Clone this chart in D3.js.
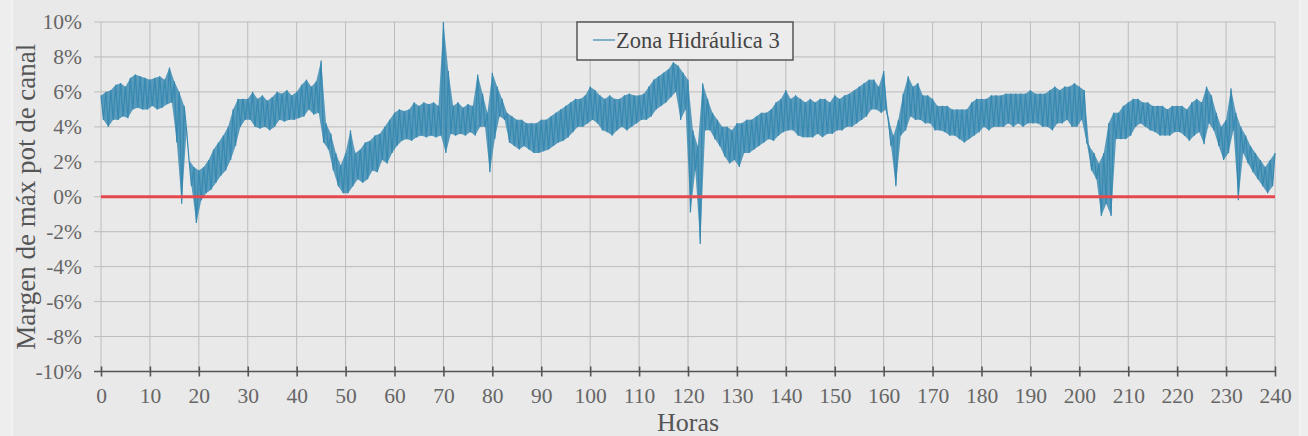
<!DOCTYPE html>
<html>
<head>
<meta charset="utf-8">
<script src="https://cdn.jsdelivr.net/npm/d3@7"></script>
<style>
  html, body { margin: 0; padding: 0; background: #eeeeee; }
  svg { display: block; }
</style>
</head>
<body>
<svg id="chart" width="1308" height="436"></svg>
<script>
// Margen de máxima potencia de canal, zona hidráulica 3, horario 0–240 h.
// Upper swing of the signal at each whole hour (0 … 240), in %.
const peaks = [
  5.8, 6.0, 6.1, 6.4, 6.5, 6.3, 6.8, 7.0, 6.9, 6.8,
  6.7, 6.8, 6.9, 6.7, 7.4, 6.6, 6.0, 5.2, 2.1, 1.7,
  1.5, 1.7, 2.1, 2.7, 3.1, 3.5, 4.0, 5.0, 5.6, 5.6,
  5.6, 6.0, 5.6, 5.8, 5.5, 5.7, 6.0, 5.9, 6.1, 5.8,
  6.0, 6.4, 6.7, 6.3, 6.6, 7.8, 4.2, 3.6, 2.5, 1.8,
  2.5, 3.8, 2.5, 2.7, 3.1, 3.2, 3.5, 3.6, 4.0, 4.4,
  4.8, 5.0, 4.9, 5.0, 5.4, 5.2, 5.4, 5.3, 5.4, 5.2,
  10.0, 7.2, 5.2, 5.4, 5.1, 5.3, 5.2, 7.0, 5.9, 4.8,
  7.1, 6.3, 5.6, 4.8, 4.6, 4.4, 4.4, 4.2, 4.2, 4.2,
  4.4, 4.4, 4.6, 4.8, 5.0, 5.2, 5.4, 5.6, 5.6, 5.8,
  6.3, 6.1, 5.8, 5.6, 5.8, 5.6, 5.6, 5.8, 5.9, 5.8,
  5.8, 5.9, 6.3, 6.7, 6.9, 7.1, 7.3, 7.7, 7.5, 7.1,
  6.7, 3.8, 2.9, 6.5, 5.6, 4.8, 4.4, 4.0, 4.0, 3.8,
  4.2, 4.2, 4.4, 4.4, 4.6, 4.8, 4.8, 5.0, 5.4, 5.6,
  6.1, 5.6, 5.8, 5.6, 5.4, 5.6, 5.4, 5.6, 5.6, 5.4,
  5.8, 5.6, 5.8, 5.9, 6.1, 6.3, 6.5, 6.7, 6.7, 6.3,
  7.2, 4.4, 3.5, 4.4, 5.9, 6.9, 6.3, 6.5, 5.8, 5.8,
  5.6, 5.2, 5.2, 5.2, 5.0, 5.0, 5.0, 5.0, 5.4, 5.6,
  5.6, 5.6, 5.8, 5.8, 5.8, 5.9, 5.9, 5.9, 5.9, 5.9,
  6.1, 5.9, 5.9, 5.9, 6.1, 6.3, 6.1, 6.3, 6.3, 6.5,
  6.3, 6.1, 2.9, 2.5, 1.9, 2.5, 4.2, 4.8, 4.8, 5.2,
  5.4, 5.6, 5.6, 5.4, 5.4, 5.2, 5.2, 5.2, 5.0, 5.2,
  5.2, 5.2, 5.0, 5.4, 5.6, 5.4, 6.3, 5.8, 4.8, 4.0,
  4.4, 6.2, 4.8, 4.0, 3.5, 2.9, 2.5, 2.1, 1.7, 2.1,
  2.5
];
// Lower swing of the signal at each half hour (0.5 … 239.5), in %.
const troughs = [
  4.4, 4.0, 4.4, 4.4, 4.6, 4.5, 5.0, 5.1, 5.0, 5.0,
  5.2, 5.0, 5.1, 5.3, 5.4, 3.1, -0.4, 3.8, 0.6, -1.5,
  -0.2, 0.2, 0.4, 0.8, 1.2, 1.5, 2.1, 2.9, 4.0, 4.4,
  4.4, 4.0, 3.9, 4.0, 3.8, 4.0, 4.4, 4.3, 4.4, 4.4,
  4.5, 4.6, 5.0, 4.7, 4.8, 3.1, 2.7, 1.5, 0.6, 0.2,
  0.2, 0.6, 1.0, 0.8, 1.0, 1.5, 1.4, 2.1, 1.9, 2.5,
  2.9, 3.2, 3.3, 3.2, 3.4, 3.5, 3.4, 3.5, 3.4, 3.5,
  2.5, 3.6, 3.5, 3.6, 3.5, 3.7, 3.5, 4.0, 4.0, 1.4,
  3.3, 4.6, 4.4, 3.1, 2.9, 2.7, 2.9, 2.7, 2.5, 2.5,
  2.6, 2.7, 2.9, 3.1, 3.2, 3.4, 3.7, 4.0, 4.0, 4.2,
  4.4, 4.2, 3.8, 3.7, 3.5, 3.8, 4.0, 3.8, 4.0, 4.2,
  4.4, 4.4, 4.6, 5.0, 5.2, 5.4, 5.7, 6.0, 4.4, 5.0,
  -0.9, 1.5, -2.7, 3.8, 3.8, 3.3, 2.9, 2.3, 1.9, 2.1,
  1.7, 2.5, 2.5, 2.7, 2.9, 3.1, 3.3, 3.2, 3.5, 3.7,
  3.8, 3.8, 3.5, 3.4, 3.4, 3.4, 3.6, 3.4, 3.6, 3.6,
  3.8, 3.8, 4.0, 4.0, 4.2, 4.4, 4.6, 5.0, 5.0, 4.8,
  5.0, 2.9, 0.6, 3.5, 3.8, 4.6, 4.4, 4.4, 4.2, 4.2,
  3.8, 3.8, 3.7, 3.5, 3.5, 3.3, 3.1, 3.3, 3.5, 3.7,
  4.0, 3.8, 4.0, 4.0, 4.0, 4.2, 4.0, 4.2, 4.0, 4.2,
  4.2, 4.2, 4.0, 4.0, 3.8, 4.2, 4.2, 4.4, 4.0, 4.0,
  4.4, 3.1, 1.5, 1.0, -1.1, -0.4, -1.1, 3.3, 3.3, 3.3,
  3.5, 4.0, 4.2, 4.0, 3.8, 3.7, 3.5, 3.5, 3.5, 3.7,
  3.7, 3.5, 3.2, 3.5, 3.7, 3.0, 4.2, 3.8, 2.9, 2.1,
  2.5, 3.8, -0.2, 2.5, 1.9, 1.4, 1.0, 0.6, 0.2, 0.6
];
// Reference limit (0 %) across the whole horizon.
const limitHours = [0, 240];
const limitValues = [0, 0];

const xTicks = d3.range(0, 241, 10);
const yTicks = d3.range(-10, 10.01, 2);
const seriesName = "Zona Hidráulica 3";
const xTitle = "Horas";
const yTitle = "Margen de máx pot de canal";

const FONT = "'Liberation Serif', Tinos, 'Times New Roman', 'DejaVu Serif', serif";
const pct = d => `${d < 0 ? "-" : ""}${Math.abs(Math.round(d))}%`;

// Time-ordered trace (peaks at whole hours, troughs at half hours).
const trace = [];
peaks.forEach((v, i) => {
  trace.push([i, v]);
  if (i < troughs.length) trace.push([i + 0.5, troughs[i]]);
});
// Envelope outline: upper swings forward, lower swings back.
const envelope = peaks.map((v, i) => [i, v])
  .concat(troughs.map((v, i) => [i + 0.5, v]).reverse());

const svg = d3.select("#chart");
const W = 1308, H = 436;
const plot = { left: 101, right: 1275, top: 22, bottom: 371.5 };
const SERIES_COLOR = "#3789b1";

const x = d3.scaleLinear().domain([0, 240]).range([plot.left, plot.right]);
const y = d3.scaleLinear().domain([-10, 10]).range([plot.bottom, plot.top]);

// Chart area
svg.append("rect").attr("x", 0).attr("y", 0).attr("width", W).attr("height", H).attr("fill", "#eeeeee");
svg.append("rect").attr("x", 12).attr("y", -2).attr("width", 1288).attr("height", H + 4)
  .attr("fill", "#e9e9e9").attr("stroke", "#f5f5f5").attr("stroke-width", 1.5);

// Gridlines
const grid = svg.append("g").attr("stroke", "#bcbcbc").attr("stroke-width", 1);
grid.selectAll("line.v").data(xTicks).join("line")
  .attr("x1", d => x(d)).attr("x2", d => x(d))
  .attr("y1", plot.top).attr("y2", plot.bottom);
grid.selectAll("line.h").data(yTicks.filter(d => d > -10)).join("line")
  .attr("x1", plot.left - 7).attr("x2", plot.right)
  .attr("y1", d => y(d)).attr("y2", d => y(d));

// Y axis labels
const yAxis = d3.axisLeft(y).tickValues(yTicks).tickSize(0).tickPadding(19).tickFormat(pct);
const gy = svg.append("g").attr("transform", `translate(${plot.left},0)`).call(yAxis);
gy.select(".domain").remove();
gy.selectAll("text").style("font-family", FONT).style("font-size", "21.5px").attr("fill", "#666");

// X axis along -10 %
const xAxis = d3.axisBottom(x).tickValues(xTicks).tickSizeInner(5).tickSizeOuter(0).tickPadding(11);
const gx = svg.append("g").attr("transform", `translate(0,${y(-10)})`).call(xAxis);
gx.select(".domain").attr("stroke", "#555").attr("stroke-width", 1.6).attr("d", `M${plot.left - 7},0H${plot.right}`);
gx.selectAll(".tick line").attr("stroke", "#555").attr("stroke-width", 1.6).attr("y1", -5).attr("y2", 5);
gx.selectAll("text").style("font-family", FONT).style("font-size", "21.5px").attr("fill", "#666");

// Series: filled swing envelope with the trace drawn over it
const line = d3.line().x(d => x(d[0])).y(d => y(d[1]));
svg.append("path").datum(envelope)
  .attr("fill", SERIES_COLOR).attr("fill-opacity", 0.82).attr("stroke", "none")
  .attr("d", line(envelope) + "Z");
svg.append("path").datum(trace)
  .attr("fill", "none").attr("stroke", SERIES_COLOR).attr("stroke-width", 1.2)
  .attr("d", line);

// Limit line at 0 %
svg.append("path").datum(limitHours.map((h, i) => [h, limitValues[i]]))
  .attr("fill", "none").attr("stroke", "#e4474c").attr("stroke-width", 3).attr("d", line);

// Legend
const lg = svg.append("g");
lg.append("rect").attr("x", 577).attr("y", 22).attr("width", 216).attr("height", 38)
  .attr("fill", "#ececec").attr("stroke", "#555").attr("stroke-width", 1.5);
lg.append("line").attr("x1", 593).attr("x2", 615).attr("y1", 40).attr("y2", 40)
  .attr("stroke", SERIES_COLOR).attr("stroke-width", 1.2);
lg.append("text").attr("x", 616).attr("y", 47.5).attr("fill", "#444")
  .style("font-family", FONT).style("font-size", "22.5px").text(seriesName);

// Axis titles
svg.append("text").attr("x", (plot.left + plot.right) / 2).attr("y", 431)
  .attr("text-anchor", "middle").attr("fill", "#555")
  .style("font-family", FONT).style("font-size", "26px").text(xTitle);
svg.append("text").attr("transform", `translate(35,${(plot.top + plot.bottom) / 2}) rotate(-90)`)
  .attr("text-anchor", "middle").attr("fill", "#555")
  .style("font-family", FONT).style("font-size", "27px").text(yTitle);
</script>
</body>
</html>
